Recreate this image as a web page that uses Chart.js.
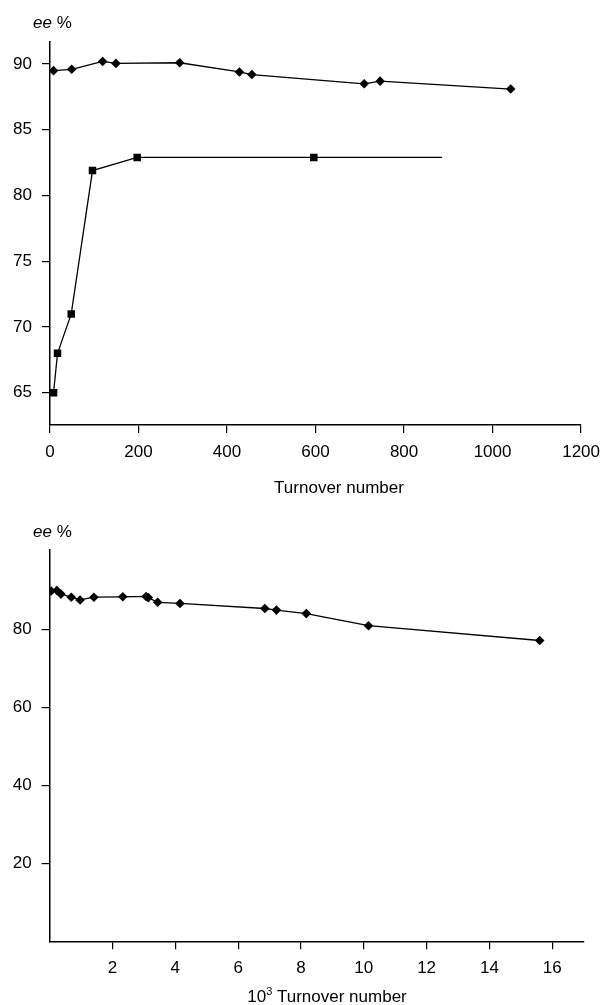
<!DOCTYPE html>
<html>
<head>
<meta charset="utf-8">
<title>ee % vs turnover number</title>
<script src="https://cdn.jsdelivr.net/npm/chart.js@4/dist/chart.umd.min.js"></script>
<style>
    body { margin: 0; background: #fff; }
    #wrap { position: relative; width: 609px; height: 1005px; }
    canvas { position: absolute; left: 0; }
    #topChart { top: 0; }
    #bottomChart { top: 505px; }
</style>
</head>
<body>
<div id="wrap">
    <canvas id="topChart" width="609" height="505"></canvas>
    <canvas id="bottomChart" width="609" height="500"></canvas>
</div>
<script>
// Top panel - low turnover numbers
const topXTicks = [0, 200, 400, 600, 800, 1000, 1200];
const topYTicks = [65, 70, 75, 80, 85, 90];
const diamondTurnover = [8, 49, 119, 149, 293, 428, 456, 710, 746, 1041];
const diamondEe = [89.5, 89.6, 90.2, 90.05, 90.1, 89.4, 89.2, 88.5, 88.7, 88.1];
const squareTurnover = [8, 17, 48, 96, 197, 596, 886];
const squareEe = [65, 68, 71, 81.9, 82.9, 82.9, 82.9];
const squareMarker = [true, true, true, true, true, true, false];

// Bottom panel - turnover in thousands
const bottomXTicks = [2, 4, 6, 8, 10, 12, 14, 16];
const bottomYTicks = [20, 40, 60, 80];
const longTurnover = [0.05, 0.23, 0.36, 0.69, 0.97, 1.41, 2.33, 3.07, 3.14, 3.44, 4.15, 6.85, 7.22, 8.17, 10.15, 15.6];
const longEe = [89.8, 89.9, 89.0, 88.2, 87.5, 88.2, 88.3, 88.4, 88.1, 86.9, 86.6, 85.3, 84.9, 84.0, 80.9, 77.1];

const FONT = '"Liberation Sans", Arial, Helvetica, sans-serif';

function toPoints(xs, ys) {
    return xs.map((x, i) => ({ x: x, y: ys[i] }));
}

// Draw the free texts (y label "ee %" and x title)
function textPlugin(cfg) {
    return {
        id: 'freeText',
        afterDraw(chart) {
            const ctx = chart.ctx;
            ctx.save();
            ctx.fillStyle = '#000';
            ctx.textBaseline = 'alphabetic';

            // "ee %" with italic ee
            ctx.font = 'italic 17px ' + FONT;
            ctx.textAlign = 'left';
            ctx.fillText('ee', 33, cfg.eeY);
            const w = ctx.measureText('ee ').width;
            ctx.font = '17px ' + FONT;
            ctx.fillText('%', 33 + w, cfg.eeY);

            // x axis title, optional 10^3 prefix
            ctx.font = '17px ' + FONT;
            const title = 'Turnover number';
            const tw = ctx.measureText(title).width;
            if (cfg.power) {
                const w10 = ctx.measureText('10').width;
                ctx.font = '11px ' + FONT;
                const w3 = ctx.measureText('3').width;
                ctx.font = '17px ' + FONT;
                const sp = ctx.measureText(' ').width;
                const total = w10 + w3 + sp + tw;
                let x = cfg.titleX - total / 2;
                ctx.fillText('10', x, cfg.titleY);
                x += w10;
                ctx.font = '11px ' + FONT;
                ctx.fillText('3', x, cfg.titleY - 7);
                x += w3 + sp;
                ctx.font = '17px ' + FONT;
                ctx.fillText(title, x, cfg.titleY);
            } else {
                ctx.textAlign = 'center';
                ctx.fillText(title, cfg.titleX, cfg.titleY);
            }
            ctx.restore();
        }
    };
}

function axisStyle(tickValues, extra) {
    return Object.assign({
        type: 'linear',
        afterBuildTicks: function(scale) {
            scale.ticks = tickValues.map(v => ({ value: v }));
        },
        grid: {
            display: true,
            drawOnChartArea: false,
            drawTicks: true,
            tickLength: 8,
            color: '#000',
            lineWidth: 1.2
        },
        border: { display: true, color: '#000', width: 1.5 },
        ticks: {
            color: '#000',
            font: { family: FONT, size: 17 },
            maxRotation: 0,
            autoSkip: false,
            // plain numbers, no thousands separator
            callback: function(value) { return String(value); }
        }
    }, extra);
}

// Top chart
function loadTopChart() {
    const ctx = document.getElementById('topChart').getContext('2d');
    const xAxis = axisStyle(topXTicks, { min: 0, max: 1200 });
    xAxis.afterFit = function(scale) { scale.height = 80; };
    xAxis.ticks.padding = 9;
    const yAxis = axisStyle(topYTicks, { min: 62.55, max: 91.7 });
    yAxis.afterFit = function(scale) { scale.width = 50; };
    yAxis.ticks.padding = 10;

    new Chart(ctx, {
        type: 'line',
        data: {
            datasets: [
                {
                    data: toPoints(diamondTurnover, diamondEe),
                    borderColor: '#000',
                    borderWidth: 1.3,
                    backgroundColor: '#000',
                    pointStyle: 'rectRot',
                    pointRadius: 4.8,
                    pointBorderWidth: 0,
                    tension: 0
                },
                {
                    data: toPoints(squareTurnover, squareEe),
                    borderColor: '#000',
                    borderWidth: 1.3,
                    backgroundColor: '#000',
                    pointStyle: 'rect',
                    pointRadius: squareMarker.map(m => m ? 5.3 : 0),
                    pointBorderWidth: 0,
                    tension: 0
                }
            ]
        },
        options: {
            responsive: false,
            animation: false,
            layout: { padding: { top: 41.7, right: 23.3, left: 0, bottom: 0 } },
            plugins: { legend: { display: false }, tooltip: { enabled: false } },
            scales: { x: xAxis, y: yAxis }
        },
        plugins: [textPlugin({ eeY: 28, titleX: 339, titleY: 493, power: false })]
    });
}

// Bottom chart
function loadBottomChart() {
    const ctx = document.getElementById('bottomChart').getContext('2d');
    const xAxis = axisStyle(bottomXTicks, { min: 0, max: 17 });
    xAxis.afterFit = function(scale) { scale.height = 63.7; };
    xAxis.ticks.padding = 9;
    const yAxis = axisStyle(bottomYTicks, { min: 0, max: 100.3 });
    yAxis.afterFit = function(scale) { scale.width = 49.6; };
    yAxis.ticks.padding = 10;

    new Chart(ctx, {
        type: 'line',
        data: {
            datasets: [{
                data: toPoints(longTurnover, longEe),
                borderColor: '#000',
                borderWidth: 1.3,
                backgroundColor: '#000',
                pointStyle: 'rectRot',
                pointRadius: 4.8,
                pointBorderWidth: 0,
                tension: 0
            }]
        },
        options: {
            responsive: false,
            animation: false,
            layout: { padding: { top: 45, right: 25.3, left: 0, bottom: 0 } },
            plugins: { legend: { display: false }, tooltip: { enabled: false } },
            scales: { x: xAxis, y: yAxis }
        },
        plugins: [textPlugin({ eeY: 32, titleX: 327, titleY: 497, power: true })]
    });
}

document.addEventListener('DOMContentLoaded', function() {
    loadTopChart();
    loadBottomChart();
});
</script>
</body>
</html>
